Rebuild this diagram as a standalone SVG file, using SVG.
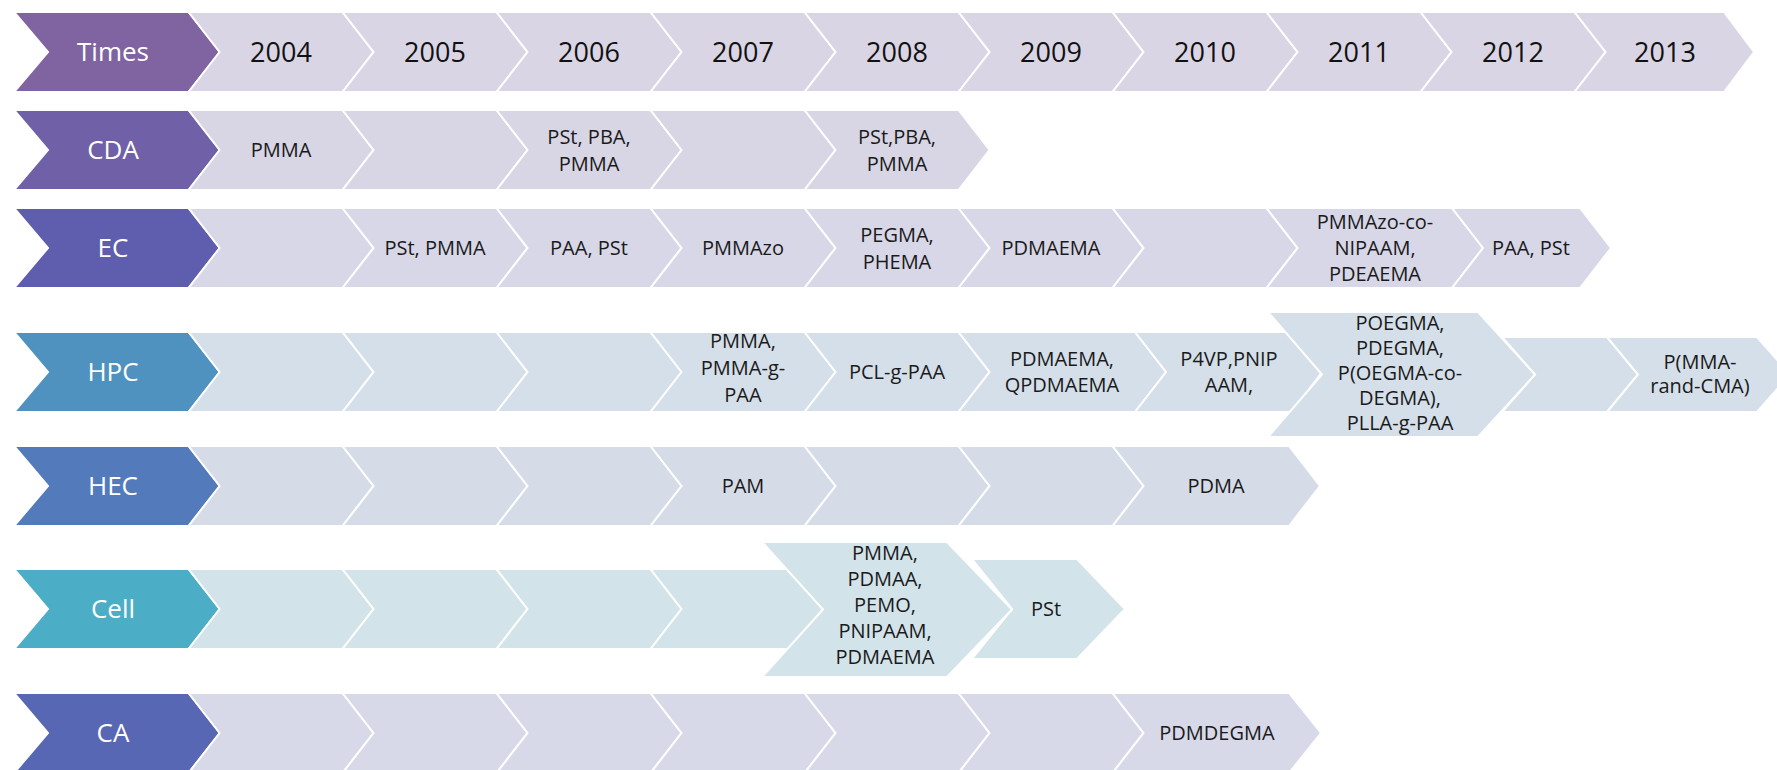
<svg xmlns="http://www.w3.org/2000/svg" width="1777" height="770" viewBox="0 0 1777 770">
<style>
.c{stroke:#ffffff;stroke-width:2;stroke-linejoin:miter}
.hd{font-family:"Open Sans","Liberation Sans",sans-serif;font-size:26px;fill:#ffffff;text-anchor:middle}
.yr{font-family:"Open Sans","Liberation Sans",sans-serif;font-size:27px;fill:#111111;text-anchor:middle}
.it{font-family:"Open Sans","Liberation Sans",sans-serif;font-size:20px;fill:#1a1a1a;text-anchor:middle}
.h1{fill:#8064A2}.l1{fill:#DAD5E4}
.h2{fill:#7060A7}.l2{fill:#D8D5E5}
.h3{fill:#5F5DAD}.l3{fill:#D8D7E8}
.h4{fill:#4F92C0}.l4{fill:#D5DFE9}
.h5{fill:#537BBB}.l5{fill:#D6DBE8}
.h6{fill:#4BADC6}.l6{fill:#D3E3EA}
.h7{fill:#5867B3}.l7{fill:#D7D8E8}
</style>
<rect width="1777" height="770" fill="#ffffff"/>

<!-- Row: Times -->
<g id="row-times">
<g id="times-head"><path class="c h1" d="M14,12 L188.5,12 L220,52 L188.5,92 L14,92 L48,52 Z"/><text class="hd" x="113" y="61.3">Times</text></g>
<g id="times-2004"><path class="c l1" d="M188.5,12 L342.5,12 L373.5,52 L342.5,92 L188.5,92 L219.5,52 Z"/><text class="yr" x="281" y="61.6">2004</text></g>
<g id="times-2005"><path class="c l1" d="M342.5,12 L496.5,12 L527.5,52 L496.5,92 L342.5,92 L373.5,52 Z"/><text class="yr" x="435" y="61.6">2005</text></g>
<g id="times-2006"><path class="c l1" d="M496.5,12 L650.5,12 L681.5,52 L650.5,92 L496.5,92 L527.5,52 Z"/><text class="yr" x="589" y="61.6">2006</text></g>
<g id="times-2007"><path class="c l1" d="M650.5,12 L804.5,12 L835.5,52 L804.5,92 L650.5,92 L681.5,52 Z"/><text class="yr" x="743" y="61.6">2007</text></g>
<g id="times-2008"><path class="c l1" d="M804.5,12 L958.5,12 L989.5,52 L958.5,92 L804.5,92 L835.5,52 Z"/><text class="yr" x="897" y="61.6">2008</text></g>
<g id="times-2009"><path class="c l1" d="M958.5,12 L1112.5,12 L1143.5,52 L1112.5,92 L958.5,92 L989.5,52 Z"/><text class="yr" x="1051" y="61.6">2009</text></g>
<g id="times-2010"><path class="c l1" d="M1112.5,12 L1266.5,12 L1297.5,52 L1266.5,92 L1112.5,92 L1143.5,52 Z"/><text class="yr" x="1205" y="61.6">2010</text></g>
<g id="times-2011"><path class="c l1" d="M1266.5,12 L1420.5,12 L1451.5,52 L1420.5,92 L1266.5,92 L1297.5,52 Z"/><text class="yr" x="1359" y="61.6">2011</text></g>
<g id="times-2012"><path class="c l1" d="M1420.5,12 L1574.5,12 L1605.5,52 L1574.5,92 L1420.5,92 L1451.5,52 Z"/><text class="yr" x="1513" y="61.6">2012</text></g>
<g id="times-2013"><path class="c l1" d="M1574.5,12 L1724,12 L1754,52 L1724,92 L1574.5,92 L1605.5,52 Z"/><text class="yr" x="1665" y="61.6">2013</text></g>
</g>

<!-- Row: CDA -->
<g id="row-cda">
<g id="cda-head"><path class="c h2" d="M14,110 L188.5,110 L220,150 L188.5,190 L14,190 L48,150 Z"/><text class="hd" x="113" y="159.3">CDA</text></g>
<g id="cda-2004"><path class="c l2" d="M188.5,110 L342.5,110 L373.5,150 L342.5,190 L188.5,190 L219.5,150 Z"/><text class="it" x="281" y="157.1">PMMA</text></g>
<g id="cda-2005"><path class="c l2" d="M342.5,110 L496.5,110 L527.5,150 L496.5,190 L342.5,190 L373.5,150 Z"/></g>
<g id="cda-2006"><path class="c l2" d="M496.5,110 L650.5,110 L681.5,150 L650.5,190 L496.5,190 L527.5,150 Z"/><text class="it" x="589" y="143.6">PSt, PBA,</text><text class="it" x="589" y="170.6">PMMA</text></g>
<g id="cda-2007"><path class="c l2" d="M650.5,110 L804.5,110 L835.5,150 L804.5,190 L650.5,190 L681.5,150 Z"/></g>
<g id="cda-2008"><path class="c l2" d="M804.5,110 L958.5,110 L989.5,150 L958.5,190 L804.5,190 L835.5,150 Z"/><text class="it" x="897" y="143.6">PSt,PBA,</text><text class="it" x="897" y="170.6">PMMA</text></g>
</g>

<!-- Row: EC -->
<g id="row-ec">
<g id="ec-head"><path class="c h3" d="M14,208 L188.5,208 L220,248 L188.5,288 L14,288 L48,248 Z"/><text class="hd" x="113" y="257.3">EC</text></g>
<g id="ec-2004"><path class="c l3" d="M188.5,208 L342.5,208 L373.5,248 L342.5,288 L188.5,288 L219.5,248 Z"/></g>
<g id="ec-2005"><path class="c l3" d="M342.5,208 L496.5,208 L527.5,248 L496.5,288 L342.5,288 L373.5,248 Z"/><text class="it" x="435" y="255.1">PSt, PMMA</text></g>
<g id="ec-2006"><path class="c l3" d="M496.5,208 L650.5,208 L681.5,248 L650.5,288 L496.5,288 L527.5,248 Z"/><text class="it" x="589" y="255.1">PAA, PSt</text></g>
<g id="ec-2007"><path class="c l3" d="M650.5,208 L804.5,208 L835.5,248 L804.5,288 L650.5,288 L681.5,248 Z"/><text class="it" x="743" y="255.1">PMMAzo</text></g>
<g id="ec-2008"><path class="c l3" d="M804.5,208 L958.5,208 L989.5,248 L958.5,288 L804.5,288 L835.5,248 Z"/><text class="it" x="897" y="241.6">PEGMA,</text><text class="it" x="897" y="268.6">PHEMA</text></g>
<g id="ec-2009"><path class="c l3" d="M958.5,208 L1112.5,208 L1143.5,248 L1112.5,288 L958.5,288 L989.5,248 Z"/><text class="it" x="1051" y="255.1">PDMAEMA</text></g>
<g id="ec-2010"><path class="c l3" d="M1112.5,208 L1266.5,208 L1297.5,248 L1266.5,288 L1112.5,288 L1143.5,248 Z"/></g>
<g id="ec-2011"><path class="c l3" d="M1266.5,208 L1452,208 L1483,248 L1452,288 L1266.5,288 L1297.5,248 Z"/><text class="it" x="1375" y="229.1">PMMAzo-co-</text><text class="it" x="1375" y="255.1">NIPAAM,</text><text class="it" x="1375" y="281.1">PDEAEMA</text></g>
<g id="ec-2012"><path class="c l3" d="M1452,208 L1580,208 L1611,248 L1580,288 L1452,288 L1483,248 Z"/><text class="it" x="1531" y="255.1">PAA, PSt</text></g>
</g>

<!-- Row: HPC -->
<g id="row-hpc">
<g id="hpc-head"><path class="c h4" d="M14,332 L188.5,332 L220,372 L188.5,412 L14,412 L48,372 Z"/><text class="hd" x="113" y="381.3">HPC</text></g>
<g id="hpc-2004"><path class="c l4" d="M188.5,332 L342.5,332 L373.5,372 L342.5,412 L188.5,412 L219.5,372 Z"/></g>
<g id="hpc-2005"><path class="c l4" d="M342.5,332 L496.5,332 L527.5,372 L496.5,412 L342.5,412 L373.5,372 Z"/></g>
<g id="hpc-2006"><path class="c l4" d="M496.5,332 L650.5,332 L681.5,372 L650.5,412 L496.5,412 L527.5,372 Z"/></g>
<g id="hpc-2007"><path class="c l4" d="M650.5,332 L804.5,332 L835.5,372 L804.5,412 L650.5,412 L681.5,372 Z"/><text class="it" x="743" y="348.1">PMMA,</text><text class="it" x="743" y="375.1">PMMA-g-</text><text class="it" x="743" y="402.1">PAA</text></g>
<g id="hpc-2008"><path class="c l4" d="M804.5,332 L958.5,332 L989.5,372 L958.5,412 L804.5,412 L835.5,372 Z"/><text class="it" x="897" y="379.1">PCL-g-PAA</text></g>
<g id="hpc-2009"><path class="c l4" d="M958.5,332 L1135,332 L1166,372 L1135,412 L958.5,412 L989.5,372 Z"/><text class="it" x="1062" y="366">PDMAEMA,</text><text class="it" x="1062" y="392">QPDMAEMA</text></g>
<g id="hpc-2010"><path class="c l4" d="M1135,332 L1292,332 L1322,372 L1292,412 L1135,412 L1166,372 Z"/><text class="it" x="1229" y="366">P4VP,PNIP</text><text class="it" x="1229" y="392">AAM,</text></g>
<g id="hpc-2012"><path class="c l4" d="M1502,337 L1607,337 L1638,374.5 L1607,412 L1502,412 L1535,374.5 Z"/></g>
<g id="hpc-2011"><path class="c l4" d="M1268,312 L1478,312 L1535,374.5 L1478,437 L1268,437 L1322,374.5 Z"/><text class="it" x="1400" y="330.1">POEGMA,</text><text class="it" x="1400" y="355.1">PDEGMA,</text><text class="it" x="1400" y="380.1">P(OEGMA-co-</text><text class="it" x="1400" y="405.1">DEGMA),</text><text class="it" x="1400" y="430.1">PLLA-g-PAA</text></g>
<g id="hpc-2013"><path class="c l4" d="M1607,337 L1757,337 L1790,374.5 L1757,412 L1607,412 L1638,374.5 Z"/><text class="it" x="1700" y="369.1">P(MMA-</text><text class="it" x="1700" y="393.1">rand-CMA)</text></g>
</g>

<!-- Row: HEC -->
<g id="row-hec">
<g id="hec-head"><path class="c h5" d="M14,446 L188.5,446 L220,486 L188.5,526 L14,526 L48,486 Z"/><text class="hd" x="113" y="495.3">HEC</text></g>
<g id="hec-2004"><path class="c l5" d="M188.5,446 L342.5,446 L373.5,486 L342.5,526 L188.5,526 L219.5,486 Z"/></g>
<g id="hec-2005"><path class="c l5" d="M342.5,446 L496.5,446 L527.5,486 L496.5,526 L342.5,526 L373.5,486 Z"/></g>
<g id="hec-2006"><path class="c l5" d="M496.5,446 L650.5,446 L681.5,486 L650.5,526 L496.5,526 L527.5,486 Z"/></g>
<g id="hec-2007"><path class="c l5" d="M650.5,446 L804.5,446 L835.5,486 L804.5,526 L650.5,526 L681.5,486 Z"/><text class="it" x="743" y="493.1">PAM</text></g>
<g id="hec-2008"><path class="c l5" d="M804.5,446 L958.5,446 L989.5,486 L958.5,526 L804.5,526 L835.5,486 Z"/></g>
<g id="hec-2009"><path class="c l5" d="M958.5,446 L1112.5,446 L1143.5,486 L1112.5,526 L958.5,526 L989.5,486 Z"/></g>
<g id="hec-2010"><path class="c l5" d="M1112.5,446 L1289,446 L1320,486 L1289,526 L1112.5,526 L1143.5,486 Z"/><text class="it" x="1216" y="493.1">PDMA</text></g>
</g>

<!-- Row: Cell -->
<g id="row-cell">
<g id="cell-head"><path class="c h6" d="M14,569 L188.5,569 L220,609 L188.5,649 L14,649 L48,609 Z"/><text class="hd" x="113" y="618.3">Cell</text></g>
<g id="cell-2004"><path class="c l6" d="M188.5,569 L342.5,569 L373.5,609 L342.5,649 L188.5,649 L219.5,609 Z"/></g>
<g id="cell-2005"><path class="c l6" d="M342.5,569 L496.5,569 L527.5,609 L496.5,649 L342.5,649 L373.5,609 Z"/></g>
<g id="cell-2006"><path class="c l6" d="M496.5,569 L650.5,569 L681.5,609 L650.5,649 L496.5,649 L527.5,609 Z"/></g>
<g id="cell-2007"><path class="c l6" d="M650.5,569 L792,569 L823,609 L792,649 L650.5,649 L681.5,609 Z"/></g>
<g id="cell-2009"><path class="c l6" d="M972,559 L1077,559 L1125,609 L1077,659 L972,659 L1012,609 Z"/><text class="it" x="1046" y="616.1">PSt</text></g>
<g id="cell-2008"><path class="c l6" d="M762,542 L947,542 L1012,609.5 L947,677 L762,677 L823,609.5 Z"/><text class="it" x="885" y="560.1">PMMA,</text><text class="it" x="885" y="586.1">PDMAA,</text><text class="it" x="885" y="612.1">PEMO,</text><text class="it" x="885" y="638.1">PNIPAAM,</text><text class="it" x="885" y="664.1">PDMAEMA</text></g>
</g>

<!-- Row: CA -->
<g id="row-ca">
<g id="ca-head"><path class="c h7" d="M14,693 L188.5,693 L220,733 L188.5,773 L14,773 L48,733 Z"/><text class="hd" x="113" y="742.3">CA</text></g>
<g id="ca-2004"><path class="c l7" d="M188.5,693 L342.5,693 L373.5,733 L342.5,773 L188.5,773 L219.5,733 Z"/></g>
<g id="ca-2005"><path class="c l7" d="M342.5,693 L496.5,693 L527.5,733 L496.5,773 L342.5,773 L373.5,733 Z"/></g>
<g id="ca-2006"><path class="c l7" d="M496.5,693 L650.5,693 L681.5,733 L650.5,773 L496.5,773 L527.5,733 Z"/></g>
<g id="ca-2007"><path class="c l7" d="M650.5,693 L804.5,693 L835.5,733 L804.5,773 L650.5,773 L681.5,733 Z"/></g>
<g id="ca-2008"><path class="c l7" d="M804.5,693 L958.5,693 L989.5,733 L958.5,773 L804.5,773 L835.5,733 Z"/></g>
<g id="ca-2009"><path class="c l7" d="M958.5,693 L1112.5,693 L1143.5,733 L1112.5,773 L958.5,773 L989.5,733 Z"/></g>
<g id="ca-2010"><path class="c l7" d="M1112.5,693 L1289,693 L1321,733 L1289,773 L1112.5,773 L1143.5,733 Z"/><text class="it" x="1217" y="740.1">PDMDEGMA</text></g>
</g>
</svg>
